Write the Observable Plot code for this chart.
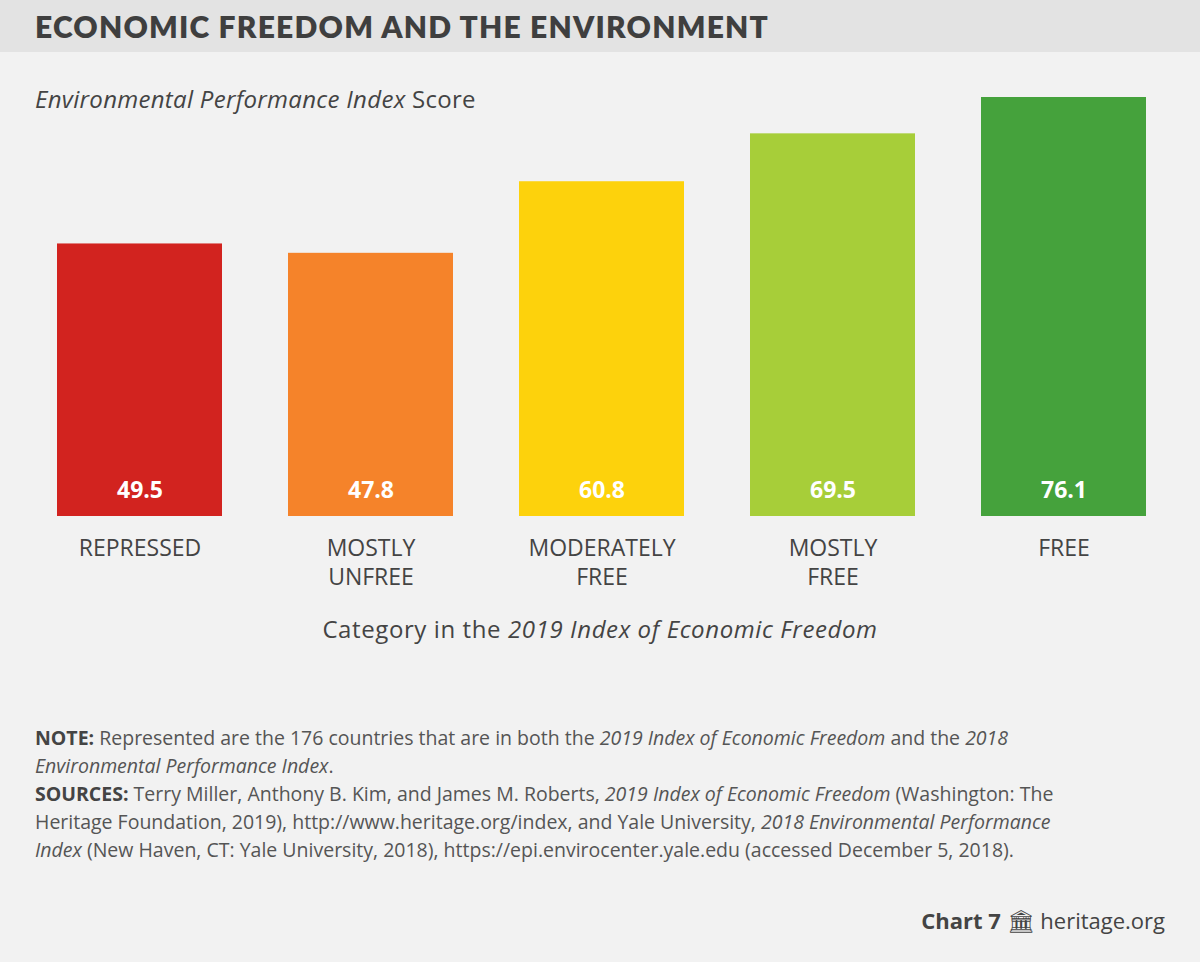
<!DOCTYPE html>
<html><head><meta charset="utf-8">
<script src="https://cdn.jsdelivr.net/npm/d3@7"></script>
<script src="https://cdn.jsdelivr.net/npm/@observablehq/plot@0.6"></script>
<style>
body{margin:0;background:#f2f2f2;font-family:"Open Sans",Lato,sans-serif;color:#444;}
#wrap{position:relative;width:1200px;height:962px;overflow:hidden;background:#f2f2f2}
#head{position:absolute;left:0;top:0;width:1200px;height:52px;background:#e3e3e3}
#title{position:absolute;left:35px;top:8px;font-size:30px;font-weight:800;letter-spacing:1.2px;color:#3f3f3f;font-family:Lato,"Open Sans",sans-serif}
#sub{position:absolute;left:35px;top:82px;font-size:24px;color:#444;letter-spacing:0.3px}
#xt{position:absolute;left:0;width:1200px;text-align:center;top:612px;font-size:24px;color:#444;letter-spacing:0.6px}
#note{position:absolute;left:35px;top:724px;width:1140px;font-size:19.5px;line-height:28px;color:#555;white-space:nowrap}
#note b{color:#444}
#foot{position:absolute;right:35px;top:905px;font-size:22px;color:#444}
#chart{position:absolute;left:0;top:0}
</style></head><body>
<div id="wrap">
<div id="chart"></div>
<div id="head"><div id="title">ECONOMIC FREEDOM AND THE ENVIRONMENT</div></div>
<div id="sub"><i>Environmental Performance Index</i> Score</div>
<div id="xt">Category in the <i>2019 Index of Economic Freedom</i></div>
<div id="note"><b>NOTE:</b> Represented are the 176 countries that are in both the <i>2019 Index of Economic Freedom</i> and the <i>2018</i><br><i>Environmental Performance Index</i>.<br><b>SOURCES:</b> Terry Miller, Anthony B. Kim, and James M. Roberts, <i>2019 Index of Economic Freedom</i> (Washington: The<br>Heritage Foundation, 2019), http://www.heritage.org/index, and Yale University, <i>2018 Environmental Performance</i><br><i>Index</i> (New Haven, CT: Yale University, 2018), https://epi.envirocenter.yale.edu (accessed December 5, 2018).</div>
<div id="foot"><b>Chart 7</b> &#x1F3DB; heritage.org</div>
</div>
<script>
const categories = ["REPRESSED","MOSTLY\nUNFREE","MODERATELY\nFREE","MOSTLY\nFREE","FREE"];
const scores = [49.5,47.8,60.8,69.5,76.1];
const colors = ["#d2231f","#f5832a","#fdd20c","#a7ce39","#45a23c"];
const data = categories.map((c,i)=>({cat:c,v:scores[i],col:colors[i]}));
const chart = Plot.plot({
  width:1200,height:962,marginTop:97,marginBottom:446,marginLeft:24,marginRight:21,
  style:{background:"transparent",fontFamily:"'Open Sans',Lato,sans-serif"},
  x:{domain:categories,paddingInner:0.286,paddingOuter:0.143,axis:null},
  y:{domain:[0,76.1],axis:null},
  marks:[
    Plot.barY(data,{x:"cat",y:"v",fill:"col"}),
    Plot.text(data,{x:"cat",y:0,text:d=>d.v.toFixed(1),dy:-26,fill:"white",fontWeight:"bold",fontSize:23,letterSpacing:1}),
    Plot.text(data,{x:"cat",y:0,text:"cat",lineAnchor:"top",dy:19,fill:"#444",fontSize:23,lineHeight:1.25,letterSpacing:2})
  ]
});
document.getElementById("chart").appendChild(chart);
</script>
</body></html>
